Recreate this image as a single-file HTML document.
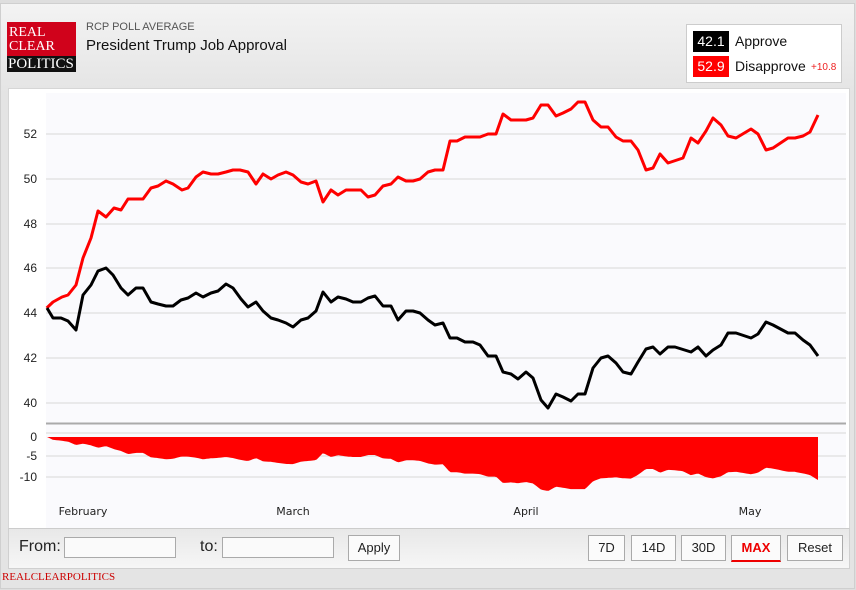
<!DOCTYPE html>
<html><head><meta charset="utf-8"><style>
body{margin:0;width:856px;height:590px;background:#dedede;font-family:"Liberation Sans",Arial,sans-serif;position:relative;overflow:hidden}
.frame{position:absolute;left:0;top:3px;width:853px;height:584px;border:1px solid #cfcfcf;background:linear-gradient(#f3f3f3,#e4e4e4 90px,#e4e4e4);}
.abs{position:absolute}
.logo{left:7px;top:22px;width:69px;height:47px;background:#d0021b;font-family:"Liberation Serif",serif;color:#fff;font-size:14px;line-height:14px}
.logo span{display:block;padding-left:2px}
.logo .p{background:#111;margin-top:2px;height:16px;line-height:16px;font-size:15px;padding-left:1px}
.legend{left:686px;top:24px;width:154px;height:57px;background:#fff;border:1px solid #ccc}
.badge{position:absolute;left:6px;width:36px;height:21px;color:#fff;font-size:14px;line-height:21px;text-align:center}
.lt{position:absolute;left:48px;font-size:14px;color:#111}
.panel{left:8px;top:88px;width:840px;height:440px;background:#fff;border:1px solid #d6d6d6}
.ctrl{left:8px;top:528px;width:840px;height:39px;background:linear-gradient(#e8e8e8,#f6f6f6);border:1px solid #d0d0d0;border-top:1px solid #ccc}
.inp{position:absolute;top:8px;width:110px;height:19px;background:#fafafa;border:1px solid #aaa}
.btn{position:absolute;top:6px;height:24px;border:1px solid #aaa;background:#fbfbfb;font-size:13px;line-height:24px;text-align:center;color:#222}
</style></head><body>
<div class="frame"></div>
<div class="abs logo"><span style="padding-top:4px">REAL</span><span>CLEAR</span><span class="p">POLITICS</span></div>
<div class="abs" style="left:86px;top:21px;font-size:11px;color:#555">RCP POLL AVERAGE</div>
<div class="abs" style="left:86px;top:37px;font-size:15px;color:#111">President Trump Job Approval</div>
<div class="abs legend">
<div class="badge" style="top:6px;background:#000">42.1</div><div class="lt" style="top:8px">Approve</div>
<div class="badge" style="top:31px;background:#f00">52.9</div><div class="lt" style="top:33px">Disapprove</div>
<div class="abs" style="left:124px;top:37px;font-size:10px;color:#e22">+10.8</div>
</div>
<div class="abs panel"></div>
<svg class="abs" style="left:0;top:0" width="856" height="590">
<rect x="46" y="93" width="800" height="435" fill="#fafafd"/>
<g stroke="#d8d8d8" stroke-width="1">
<line x1="46" x2="846" y1="134" y2="134"/><line x1="46" x2="846" y1="179" y2="179"/>
<line x1="46" x2="846" y1="224" y2="224"/><line x1="46" x2="846" y1="268" y2="268"/>
<line x1="46" x2="846" y1="313" y2="313"/><line x1="46" x2="846" y1="358" y2="358"/>
<line x1="46" x2="846" y1="403" y2="403"/>
<line x1="46" x2="846" y1="433" y2="433"/><line x1="46" x2="846" y1="456" y2="456"/><line x1="46" x2="846" y1="477" y2="477"/>
</g>
<line x1="46" x2="846" y1="423.5" y2="423.5" stroke="#aaa" stroke-width="2"/>
<g font-size="12" fill="#222" text-anchor="end" font-family="Liberation Sans,sans-serif">
<text x="37" y="138">52</text><text x="37" y="183">50</text><text x="37" y="228">48</text>
<text x="37" y="272">46</text><text x="37" y="317">44</text><text x="37" y="362">42</text><text x="37" y="407">40</text>
<text x="37" y="441">0</text><text x="37" y="460">-5</text><text x="37" y="481">-10</text>
</g>
<g font-size="11" fill="#222" text-anchor="middle" font-family="DejaVu Sans,sans-serif">
<text x="83" y="515">February</text><text x="293" y="515">March</text><text x="526" y="515">April</text><text x="750" y="515">May</text>
</g>
<path id="area" fill="#f00"/>
<polyline id="red" fill="none" stroke="#f00" stroke-width="3" stroke-linejoin="round"/>
<polyline id="blk" fill="none" stroke="#000" stroke-width="3" stroke-linejoin="round"/>
</svg>
<div class="abs ctrl">
<div class="abs" style="left:10px;top:9px;font-size:16px;color:#222">From:</div>
<div class="inp" style="left:55px"></div>
<div class="abs" style="left:191px;top:9px;font-size:16px;color:#222">to:</div>
<div class="inp" style="left:213px"></div>
<div class="btn" style="left:339px;width:50px">Apply</div>
<div class="btn" style="left:579px;width:35px">7D</div>
<div class="btn" style="left:622px;width:43px">14D</div>
<div class="btn" style="left:672px;width:43px">30D</div>
<div class="btn" style="left:722px;width:48px;color:#e00;font-weight:bold;border-bottom:2px solid #e00">MAX</div>
<div class="btn" style="left:778px;width:54px">Reset</div>
</div>
<div class="abs" style="left:2px;top:571px;font-family:'Liberation Serif',serif;font-size:11px;color:#c00">REALCLEARPOLITICS</div>
<script>
var R=[[46.7,308],[53,302],[62,297],[68,295],[76,285],[83,258],[91,238],[98,211],[106,217],[114,208],[121,210],[128,199],[143,199],[151,188],[158,186],[166,181],[173,184],[182,190],[188,188],[196,177],[203,172],[211,174],[218,174],[226,172],[233,170],[240,170],[248,172],[256,184],[263,174],[271,179],[278,175],[286,172],[293,175],[301,182],[308,184],[316,181],[323,202],[331,190],[338,195],[346,190],[361,190],[368,197],[375,195],[383,186],[391,184],[398,177],[406,181],[413,181],[420,179],[428,172],[435,170],[443,170],[450,141],[457,141],[465,137],[480,137],[488,134],[496,134],[503,114],[511,120],[526,120],[533,118],[541,105],[548,105],[556,116],[563,113],[571,109],[578,102],[585,102],[593,120],[601,127],[608,127],[616,137],[623,141],[631,141],[638,150],[646,170],[653,168],[660,154],[668,163],[683,158],[691,138],[698,143],[706,131],[713,118],[721,125],[728,136],[736,138],[751,129],[758,134],[766,150],[773,148],[788,138],[795,138],[803,136],[810,132],[818,115]];
var B=[[47,308],[53,318],[61,318],[68,321],[76,330],[83,295],[91,285],[98,271],[106,268],[113,275],[121,288],[128,295],[136,288],[143,288],[151,302],[158,304],[166,306],[173,306],[181,300],[188,298],[196,293],[203,297],[211,293],[218,291],[226,284],[233,288],[241,299],[248,307],[256,302],[263,311],[271,318],[278,320],[286,323],[293,327],[301,320],[308,318],[316,311],[323,292],[331,302],[338,297],[346,299],[353,302],[361,302],[368,298],[375,296],[383,306],[391,306],[398,320],[406,311],[413,311],[420,313],[428,320],[435,325],[443,323],[450,338],[457,338],[465,342],[473,342],[480,345],[488,356],[496,356],[503,372],[511,374],[518,379],[526,372],[533,378],[541,400],[548,408],[556,394],[563,397],[571,401],[578,394],[585,394],[593,368],[601,358],[608,356],[616,363],[623,372],[631,374],[638,362],[646,349],[653,347],[660,354],[668,347],[675,347],[691,352],[698,347],[706,356],[713,350],[721,345],[728,333],[736,333],[751,338],[758,334],[766,322],[773,325],[788,333],[795,333],[803,340],[810,345],[818,356]];
function s(a){return a.map(function(p){return p[0]+","+p[1]}).join(" ")}
document.getElementById("red").setAttribute("points",s(R));
document.getElementById("blk").setAttribute("points",s(B));
function interp(A,x){for(var i=0;i<A.length-1;i++){if(x<=A[i+1][0]){var t=(x-A[i][0])/(A[i+1][0]-A[i][0]);return A[i][1]+t*(A[i+1][1]-A[i][1]);}}return A[A.length-1][1];}
var d="M46.7,437";for(var x=46.7;x<=818;x+=2){var v=437+(interp(B,x)-interp(R,x))/22.4*4;d+=" L"+x.toFixed(1)+","+v.toFixed(1);}
d+=" L818,"+(437+(356-115)/22.4*4).toFixed(1)+" L818,437 Z";
document.getElementById("area").setAttribute("d",d);
</script>
</body></html>
